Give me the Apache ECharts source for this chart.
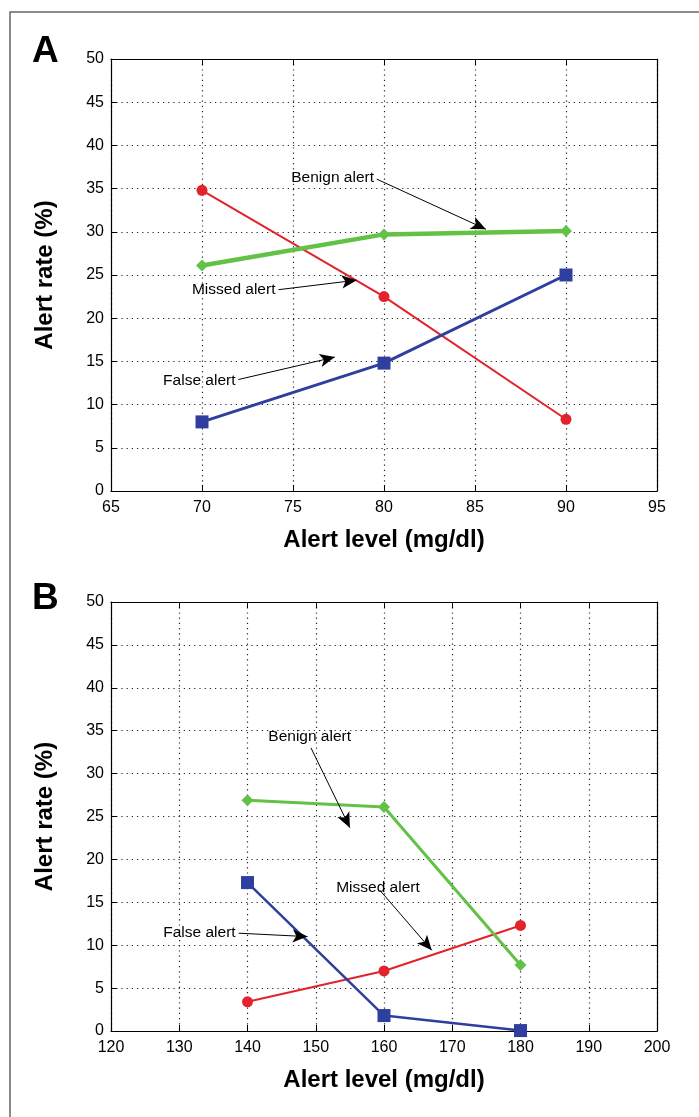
<!DOCTYPE html>
<html><head><meta charset="utf-8">
<style>html,body{margin:0;padding:0;background:#fff}#c{width:699px;height:1117px}</style>
<script src="https://cdn.jsdelivr.net/npm/echarts@6/dist/echarts.min.js"></script>
</head><body><div id="c"></div>
<script>
// Panel A
const levelsA = [70, 80, 90];
const missedA = [34.8, 22.5, 8.3];
const benignA = [26.1, 29.7, 30.1];
const falseA = [8.0, 14.8, 25.0];
// Panel B
const levelsB = [140, 160, 180];
const missedB = [3.4, 7.0, 12.3];
const benignB = [26.9, 26.1, 7.7];
const falseB = [17.3, 1.8, 0.05];
// annotations: [label, startX, startY, endX, endY]
const annotA = [
  ['Benign alert', 79.6, 36.1, 85.6, 30.3],
  ['Missed alert', 74.2, 23.3, 78.5, 24.4],
  ['False alert', 72.0, 12.9, 77.3, 15.5]
];
const annotB = [
  ['Benign alert', 149.3, 33.0, 155.0, 23.7],
  ['Missed alert', 159.4, 16.4, 167.0, 9.4],
  ['False alert', 138.7, 11.4, 148.8, 11.0]
];

const FONT = '"Liberation Sans", Arial, sans-serif';
const RED = '#e3222b', GREEN = '#63c146', BLUE = '#2f3f9f';

const chart = echarts.init(document.getElementById('c'), null, {renderer: 'canvas'});

function xAxes(gi, min, max, interval) {
  const base = {
    gridIndex: gi, type: 'value', min: min, max: max, interval: interval,
    axisLine: {show: true, onZero: false, lineStyle: {color: '#000', width: 1.2}},
    axisTick: {show: true, inside: true, length: 6, lineStyle: {color: '#000'}},
    splitLine: {show: false}
  };
  return [
    Object.assign({}, base, {
      position: 'bottom',
      axisLabel: {color: '#000', fontSize: 16, fontFamily: FONT, margin: 9},
      splitLine: {show: true, lineStyle: {color: '#222', type: [1.2, 4], width: 1.2}},
      name: 'Alert level (mg/dl)', nameLocation: 'middle', nameGap: 37,
      nameTextStyle: {color: '#000', fontSize: 24, fontWeight: 'bold', fontFamily: FONT}
    }),
    Object.assign({}, base, {position: 'top', axisLabel: {show: false}})
  ];
}
function yAxes(gi) {
  const base = {
    gridIndex: gi, type: 'value', min: 0, max: 50, interval: 5,
    axisLine: {show: true, onZero: false, lineStyle: {color: '#000', width: 1.2}},
    axisTick: {show: true, inside: true, length: 6, lineStyle: {color: '#000'}},
    splitLine: {show: false}
  };
  return [
    Object.assign({}, base, {
      position: 'left',
      axisLabel: {color: '#000', fontSize: 16, fontFamily: FONT, margin: 7},
      splitLine: {show: true, lineStyle: {color: '#222', type: [1.2, 4], width: 1.2}},
      name: 'Alert rate (%)', nameLocation: 'middle', nameGap: 54,
      nameTextStyle: {color: '#000', fontSize: 24, fontWeight: 'bold', fontFamily: FONT}
    }),
    Object.assign({}, base, {position: 'right', axisLabel: {show: false}})
  ];
}

function annotSeries(xi, yi, ann) {
  return {
    type: 'line', xAxisIndex: xi, yAxisIndex: yi, data: [], silent: true,
    markLine: {
      silent: true, animation: false,
      symbol: ['none', 'arrow'], symbolSize: [10, 15],
      lineStyle: {color: '#000', width: 1, type: 'solid'},
      label: {show: true, position: 'start', distance: 3, color: '#000', fontSize: 15.5, fontFamily: FONT,
        formatter: p => p.name},
      data: ann.map(a => [{name: a[0], coord: [a[1], a[2]]}, {coord: [a[3], a[4]]}])
    }
  };
}

function dataSeries(xi, yi, xs, ys, color, width, symbol, size, name) {
  return {
    name: name, type: 'line', xAxisIndex: xi, yAxisIndex: yi,
    data: xs.map((x, i) => [x, ys[i]]),
    symbol: symbol, symbolSize: size, showSymbol: true,
    lineStyle: {color: color, width: width},
    itemStyle: {color: color},
    animation: false, z: 3
  };
}

const option = {
  backgroundColor: '#fff',
  animation: false,
  grid: [
    {left: 111, right: 42, top: 59, height: 432},
    {left: 111, right: 42, top: 602, height: 429}
  ],
  xAxis: [].concat(xAxes(0, 65, 95, 5), xAxes(1, 120, 200, 10)),
  yAxis: [].concat(yAxes(0), yAxes(1)),
  graphic: [
    {type: 'rect', shape: {x: 10, y: 12, width: 720, height: 1140}, style: {fill: 'none', stroke: '#666', lineWidth: 1.5}, silent: true},
    {type: 'text', left: 32, top: 33, style: {text: 'A', font: 'bold 37px ' + FONT, fill: '#000'}},
    {type: 'text', left: 32, top: 580, style: {text: 'B', font: 'bold 37px ' + FONT, fill: '#000'}}
  ],
  series: [
    dataSeries(0, 0, levelsA, missedA, RED, 2, 'circle', 11, 'Missed alert'),
    dataSeries(0, 0, levelsA, benignA, GREEN, 4.5, 'diamond', 12, 'Benign alert'),
    dataSeries(0, 0, levelsA, falseA, BLUE, 3, 'rect', 13, 'False alert'),
    annotSeries(0, 0, annotA),
    dataSeries(2, 2, levelsB, missedB, RED, 2, 'circle', 11, 'Missed alert'),
    dataSeries(2, 2, levelsB, benignB, GREEN, 3, 'diamond', 12, 'Benign alert'),
    dataSeries(2, 2, levelsB, falseB, BLUE, 2.5, 'rect', 13, 'False alert'),
    annotSeries(2, 2, annotB)
  ]
};
chart.setOption(option);
</script></body></html>
